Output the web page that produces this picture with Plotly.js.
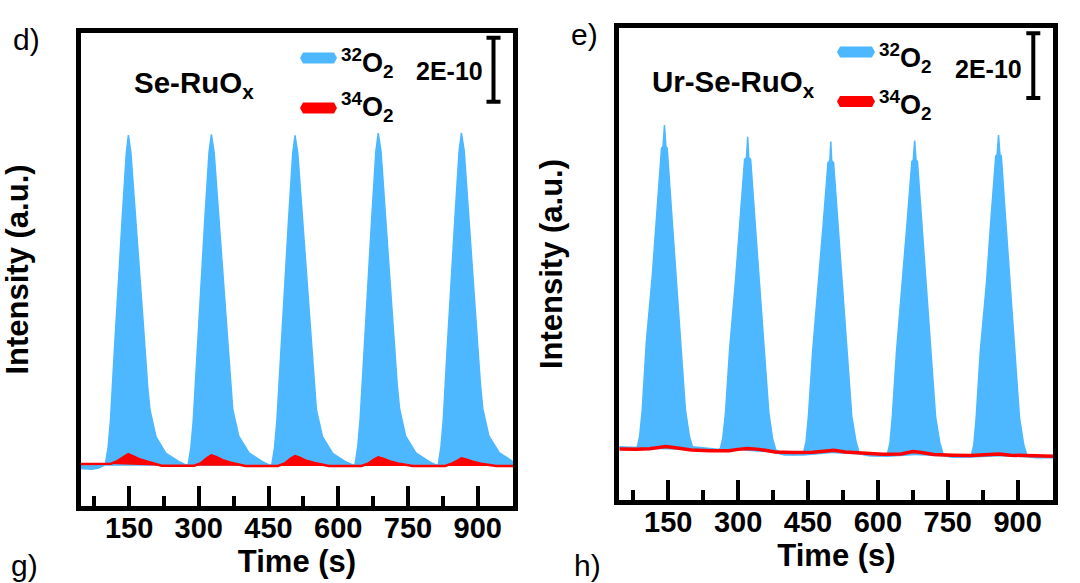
<!DOCTYPE html>
<html>
<head>
<meta charset="utf-8">
<script src="https://cdn.plot.ly/plotly-3.0.1.min.js"></script>
<style>
  html, body { margin: 0; padding: 0; background: #ffffff; }
  #chart { width: 1080px; height: 583px; }
</style>
</head>
<body>
<div id="chart"></div>
<script>
// ---------- Panel d) Se-RuOx ----------
const timeD = [40, 60, 80, 95,
  99, 105, 110, 118, 126, 135, 144, 148.5, 154, 165, 180, 190, 195, 208, 229, 258, 272,
  277, 283, 288, 296, 304, 313, 322, 327, 333, 343, 358, 368, 373, 386, 408, 436, 451,
  457, 463, 468, 476, 484, 493, 502, 507, 513, 523, 538, 548, 553, 566, 588, 616, 631,
  636, 642, 647, 655, 663, 672, 681, 686, 692, 702, 717, 727, 732, 745, 767, 795, 810,
  815, 821, 826, 834, 842, 851, 860, 865, 871, 881, 896, 906, 911, 924, 946, 974, 989];
const o32D = [1.5, 1.5, 1.5, 1.5,
  1.52, 2.07, 2.9, 5.0, 7.07, 9.16, 11.25, 11.81, 11.25, 9.16, 6.03, 3.95, 3.22, 2.38, 1.87, 1.6, 1.5,
  1.5, 2.05, 2.88, 5.02, 7.1, 9.2, 11.28, 11.83, 11.27, 9.18, 6.05, 3.97, 3.24, 2.4, 1.88, 1.61, 1.5,
  1.5, 2.06, 2.9, 5.0, 7.05, 9.15, 11.24, 11.8, 11.24, 9.15, 6.02, 3.96, 3.22, 2.39, 1.86, 1.6, 1.5,
  1.5, 2.08, 2.92, 5.05, 7.12, 9.22, 11.31, 11.87, 11.3, 9.2, 6.07, 3.98, 3.25, 2.4, 1.88, 1.61, 1.5,
  1.5, 2.08, 2.93, 5.06, 7.13, 9.23, 11.32, 11.88, 11.31, 9.21, 6.08, 4.0, 3.26, 2.41, 1.89, 1.62, 1.55];
const timeLowD = [40, 55, 70, 85, 98, 989];
const o32LowD = [1.37, 1.35, 1.34, 1.38, 1.48, 1.48];
const timeRedD = [40, 95,
  111, 125, 140, 148, 158, 172, 190, 208, 220,
  290, 305, 318, 327, 337, 351, 369, 387, 400,
  470, 485, 498, 507, 517, 531, 549, 567, 580,
  650, 664, 677, 686, 696, 710, 728, 746, 760,
  830, 844, 857, 865, 875, 889, 907, 925, 940,
  989];
const o34D = [1.53, 1.53,
  1.54, 1.62, 1.76, 1.84, 1.78, 1.68, 1.6, 1.53, 1.48,
  1.48, 1.56, 1.72, 1.8, 1.75, 1.65, 1.57, 1.5, 1.47,
  1.47, 1.55, 1.7, 1.78, 1.73, 1.63, 1.56, 1.5, 1.47,
  1.47, 1.54, 1.67, 1.74, 1.7, 1.62, 1.55, 1.5, 1.47,
  1.47, 1.54, 1.64, 1.71, 1.67, 1.6, 1.54, 1.49, 1.47,
  1.47];
const timeRedBaseD = [40, 111, 220, 989];
const o34BaseD = [1.53, 1.53, 1.48, 1.47];

// ---------- Panel e) Ur-Se-RuOx ----------
const timeE = [40, 60, 80,
  84, 88.6, 94.3, 102.9, 115.7, 126.4, 135.7, 139, 142, 145, 147.9, 157, 167, 176.4, 187, 195.7, 202,
  240, 258,
  262, 267, 273, 282, 294, 305, 314, 318, 320.7, 323, 327, 336, 346, 355, 366, 374, 381,
  400, 420, 438,
  441, 446, 451, 460, 472, 483, 493, 497, 499, 501, 505, 514, 524, 533, 544, 553, 560,
  580, 600, 617,
  621, 626, 631, 640, 652, 663, 673, 676, 679, 682, 685, 694, 704, 713, 724, 733, 740,
  760, 780, 797,
  801, 806, 811, 820, 833, 843, 853, 856, 859, 862, 865, 874, 884, 893, 904, 913, 920,
  945, 965, 989];
const o32E = [2.1, 2.08, 2.08,
  2.1, 2.41, 3.24, 5.31, 7.37, 9.43, 11.34, 11.4, 12.06, 11.4, 11.34, 9.43, 7.37, 5.31, 3.24, 2.41, 2.1,
  2.05, 2.02,
  2.05, 2.35, 3.15, 5.15, 7.15, 9.15, 11.0, 11.05, 11.7, 11.05, 11.0, 9.15, 7.15, 5.15, 3.15, 2.35, 2.0,
  1.88, 1.86, 1.88,
  1.95, 2.27, 3.05, 5.05, 7.05, 9.05, 10.9, 10.95, 11.55, 10.95, 10.9, 9.05, 7.05, 5.05, 3.05, 2.27, 1.9,
  1.84, 1.82, 1.86,
  1.9, 2.22, 3.02, 5.05, 7.07, 9.08, 10.93, 10.98, 11.58, 10.98, 10.93, 9.08, 7.07, 5.05, 3.02, 2.22, 1.87,
  1.82, 1.8, 1.84,
  1.85, 2.17, 3.0, 5.08, 7.15, 9.2, 11.1, 11.15, 11.75, 11.15, 11.1, 9.2, 7.15, 5.08, 3.0, 2.17, 1.83,
  1.8, 1.79, 1.78];
const timeLowE = [40, 84, 200, 300, 370, 400, 440, 500, 560, 580, 620, 680, 740, 760, 800, 860, 920, 940, 989];
const o32LowE = [2.04, 2.04, 2.0, 1.99, 1.92, 1.82, 1.82, 1.9, 1.86, 1.8, 1.78, 1.84, 1.8, 1.75, 1.76, 1.8, 1.77, 1.74, 1.74];
const timeRedE = [40, 80, 110, 130, 145, 165, 200, 240, 280, 300, 320, 345, 380, 420, 460, 490, 505, 530,
  570, 610, 650, 675, 690, 720, 760, 800, 840, 860, 885, 930, 989];
const o34E = [2.03, 2.02, 2.04, 2.09, 2.11, 2.07, 2.0, 1.98, 1.98, 2.02, 2.05, 2.02, 1.94, 1.92, 1.93, 1.97, 1.99, 1.94,
  1.9, 1.87, 1.88, 1.95, 1.93, 1.86, 1.84, 1.83, 1.86, 1.88, 1.84, 1.81, 1.8];

// ---------- labels ----------
const tickVals = [150, 300, 450, 600, 750, 900];
const tickText = ['150', '300', '450', '600', '750', '900'];
const sampleNames = ['Se-RuO<sub>x</sub>', 'Ur-Se-RuO<sub>x</sub>'];
const seriesNames = ['<sup>32</sup>O<sub>2</sub>', '<sup>34</sup>O<sub>2</sub>'];
const panelLabels = ['d)', 'e)', 'g)', 'h)'];
const scaleLabel = '2E-10';
const scaleSpan = 2; // in units of 1E-10

const BLUE = '#4DB8FF';
const RED = '#FF0000';
const FONT = 'Liberation Sans, Arial, Helvetica, sans-serif';

const traces = [
  {x: timeLowD, y: o32LowD, xaxis: 'x', yaxis: 'y', mode: 'lines', line: {width: 0, color: BLUE}, showlegend: false, hoverinfo: 'skip'},
  {x: timeD, y: o32D, xaxis: 'x', yaxis: 'y', mode: 'lines', fill: 'tonexty', fillcolor: BLUE, line: {width: 1.5, color: BLUE}, name: seriesNames[0], showlegend: false},
  {x: timeRedBaseD, y: o34BaseD, xaxis: 'x', yaxis: 'y', mode: 'lines', line: {width: 0, color: RED}, showlegend: false, hoverinfo: 'skip'},
  {x: timeRedD, y: o34D, xaxis: 'x', yaxis: 'y', mode: 'lines', fill: 'tonexty', fillcolor: RED, line: {width: 2.5, color: RED}, name: seriesNames[1], showlegend: false},

  {x: timeLowE, y: o32LowE, xaxis: 'x2', yaxis: 'y2', mode: 'lines', line: {width: 0, color: BLUE}, showlegend: false, hoverinfo: 'skip'},
  {x: timeE, y: o32E, xaxis: 'x2', yaxis: 'y2', mode: 'lines', fill: 'tonexty', fillcolor: BLUE, line: {width: 1.5, color: BLUE}, name: seriesNames[0], showlegend: false},
  {x: timeRedE, y: o34E, xaxis: 'x2', yaxis: 'y2', mode: 'lines', line: {width: 3.5, color: RED}, name: seriesNames[1], showlegend: false}
];

function xAxis(domain, anchor) {
  return {
    domain: domain, anchor: anchor, range: [45.5, 977],
    tickmode: 'array', tickvals: tickVals, ticktext: tickText,
    ticks: 'inside', ticklen: 20, tickwidth: 4, tickcolor: '#000',
    minor: {tickmode: 'linear', tick0: 75, dtick: 150, ticks: 'inside', ticklen: 10, tickwidth: 4, tickcolor: '#000'},
    showline: true, linewidth: 5, linecolor: '#000', mirror: true,
    showgrid: false, zeroline: false,
    tickfont: {family: FONT, size: 29, color: '#000', weight: 'bold'},
    ticklabelstandoff: -8,
    title: {text: 'Time (s)', font: {family: FONT, size: 31, color: '#000', weight: 'bold'}, standoff: 3},
    automargin: false
  };
}
function yAxis(domain, anchor, range) {
  return {
    domain: domain, anchor: anchor, range: range,
    showticklabels: false, ticks: '',
    showline: true, linewidth: 5, linecolor: '#000', mirror: true,
    showgrid: false, zeroline: false,
    title: {text: 'Intensity (a.u.)', font: {family: FONT, size: 31, color: '#000', weight: 'bold'}, standoff: 44},
    automargin: false
  };
}

function px(x) { return x / 1080; }
function py(y) { return 1 - y / 583; }

function pill(x0, x1, yc, color) {
  const e = 3, h = 5.5;
  return {
    type: 'path', xref: 'paper', yref: 'paper',
    path: 'M' + px(x0 + e) + ',' + py(yc - h) + ' L' + px(x1 - e) + ',' + py(yc - h) +
          ' L' + px(x1) + ',' + py(yc) + ' L' + px(x1 - e) + ',' + py(yc + h) +
          ' L' + px(x0 + e) + ',' + py(yc + h) + ' L' + px(x0) + ',' + py(yc) + ' Z',
    fillcolor: color, line: {width: 0}
  };
}
function scaleBar(xc, yref, y0, y1) {
  const w = 7;
  const ln = {color: '#000', width: 4};
  return [
    {type: 'line', xref: 'paper', yref: yref, x0: px(xc), x1: px(xc), y0: y0, y1: y1, line: ln},
    {type: 'line', xref: 'paper', yref: yref, x0: px(xc - w), x1: px(xc + w), y0: y0, y1: y0, line: ln},
    {type: 'line', xref: 'paper', yref: yref, x0: px(xc - w), x1: px(xc + w), y0: y1, y1: y1, line: ln}
  ];
}

const shapes = [
  pill(300, 337, 58, BLUE), pill(300, 337, 108, RED),
  pill(837, 875, 52, BLUE), pill(837, 875, 101.5, RED)
].concat(scaleBar(493.5, 'y', 12.85, 12.85 + scaleSpan))
 .concat(scaleBar(1033.3, 'y2', 12.9, 12.9 + scaleSpan));

function ann(text, x, y, size, bold, xanchor) {
  return {
    text: text, xref: 'paper', yref: 'paper', x: px(x), y: py(y),
    xanchor: xanchor || 'left', yanchor: 'middle', showarrow: false,
    font: {family: FONT, size: size, color: '#000', weight: bold ? 'bold' : 'normal'}
  };
}

const annotations = [
  ann(panelLabels[0], 11, 40, 30, false),
  ann(panelLabels[1], 569, 34, 30, false),
  ann(panelLabels[2], 9, 565, 30, false),
  ann(panelLabels[3], 572, 565, 30, false),
  ann(sampleNames[0], 132, 84, 29.5, true),
  ann(sampleNames[1], 650, 83, 29.5, true),
  ann(seriesNames[0], 339, 63, 27, true),
  ann(seriesNames[1], 339, 107, 27, true),
  ann(seriesNames[0], 877, 58, 27, true),
  ann(seriesNames[1], 877, 105, 27, true),
  ann(scaleLabel, 449.5, 71, 25, true, 'center'),
  ann(scaleLabel, 988.5, 69, 25, true, 'center')
];

const layout = {
  width: 1080, height: 583,
  margin: {l: 0, r: 0, t: 0, b: 0},
  paper_bgcolor: '#ffffff', plot_bgcolor: '#ffffff',
  showlegend: false,
  xaxis: xAxis([0.07454, 0.47546], 'y'),
  yaxis: yAxis([0.13122, 0.94425], 'x', [0.203, 15.016]),
  xaxis2: xAxis([0.57361, 0.97546], 'y2'),
  yaxis2: yAxis([0.14151, 0.95283], 'x2', [0.437, 15.08]),
  shapes: shapes,
  annotations: annotations,
  font: {family: FONT, color: '#000'}
};

Plotly.newPlot('chart', traces, layout, {staticPlot: true, displayModeBar: false});
</script>
</body>
</html>
